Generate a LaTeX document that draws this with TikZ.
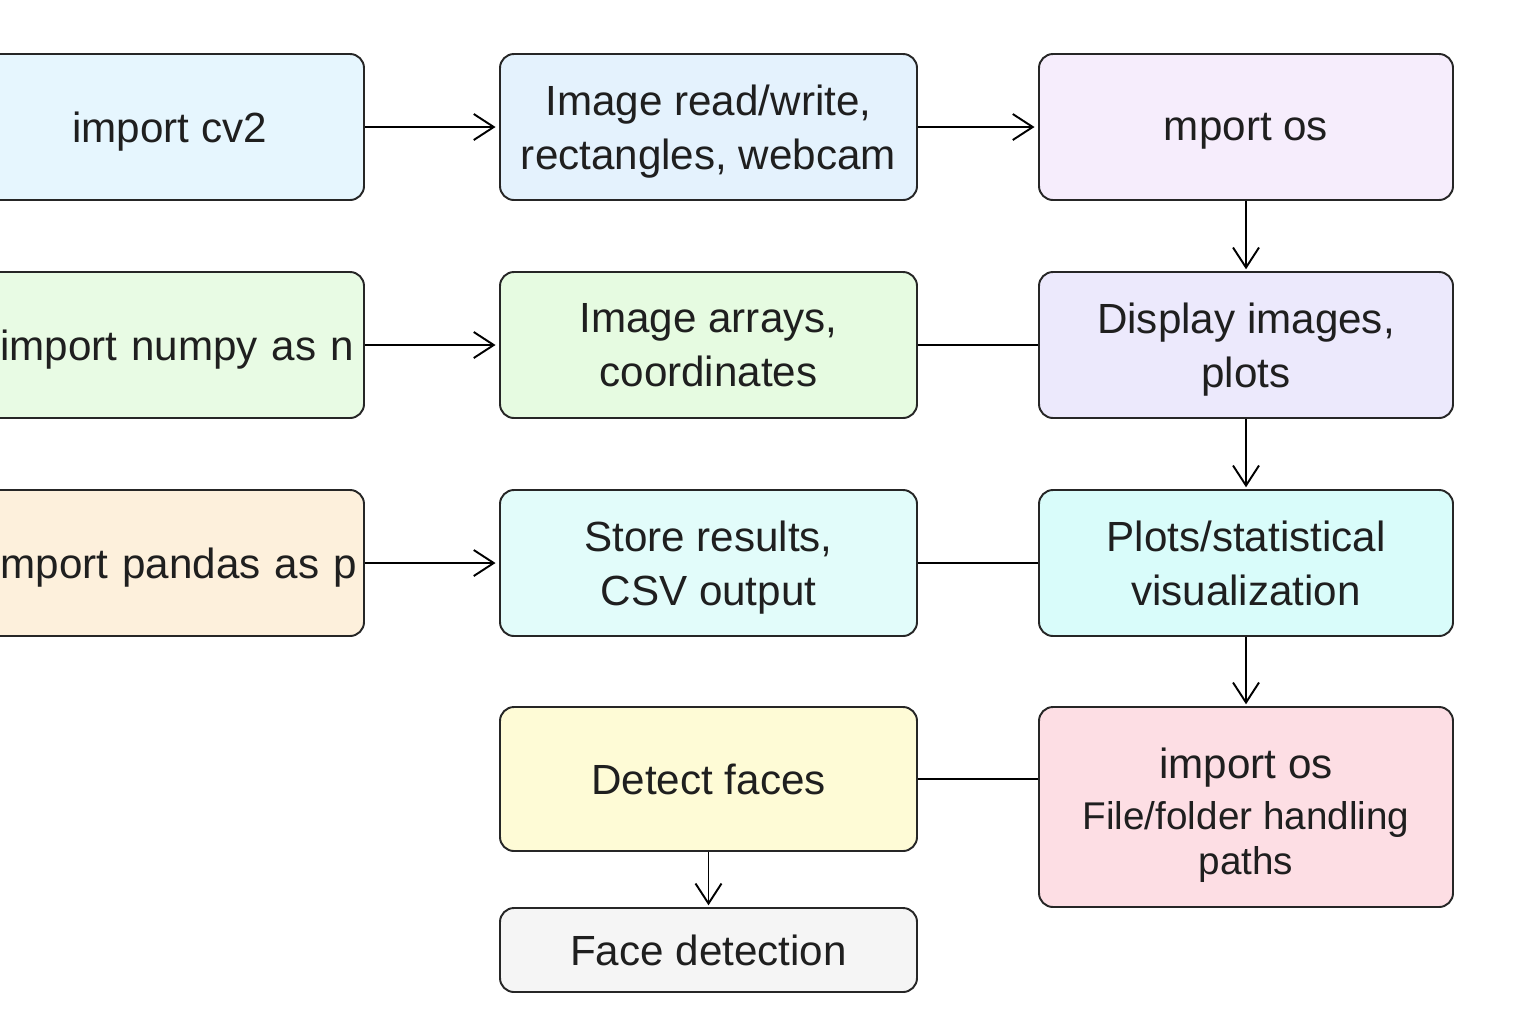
\documentclass[tikz,border=0pt]{standalone}
\usepackage{fontspec}
\setmainfont{Liberation Sans}
\usetikzlibrary{arrows.meta}

\definecolor{cvblue}{HTML}{E6F6FE}
\definecolor{readblue}{HTML}{E4F2FD}
\definecolor{oslilac}{HTML}{F6EDFC}
\definecolor{npgreen}{HTML}{E8FBE4}
\definecolor{arrgreen}{HTML}{E6FBE1}
\definecolor{displilac}{HTML}{ECE9FC}
\definecolor{pdpeach}{HTML}{FDF0DC}
\definecolor{storecyan}{HTML}{E2FCFA}
\definecolor{plotcyan}{HTML}{D9FCFA}
\definecolor{detyellow}{HTML}{FEFBD6}
\definecolor{ospink}{HTML}{FDDEE4}
\definecolor{facegray}{HTML}{F5F5F5}

\begin{document}
\begin{tikzpicture}[line width=1.1pt, >={Straight Barb[length=4mm,width=5.2mm]},
  box/.style={draw=black!85, rounded corners=0.28cm, align=center, inner sep=0pt,
    text depth=0pt, font=\fontsize{24}{30.7}\selectfont, text=black!88},
  left box/.style={box, minimum width=7.78cm, minimum height=2.92cm},
  mid box/.style={box, minimum width=8.34cm, minimum height=2.92cm},
  right box/.style={box, minimum width=8.28cm, minimum height=2.92cm}]

\useasboundingbox (0,0) rectangle (30.72,-20.48);

% Left column
\node[left box, fill=cvblue]  (cv)     at (3.39,-2.54)  {import cv2};
\node[left box, fill=npgreen, align=right, text width=7.38cm] (numpy)  at (3.39,-6.90)  {import numpy as n};
\node[left box, fill=pdpeach, align=right, text width=7.5cm]  (pandas) at (3.39,-11.26) {mport pandas as p};

% Middle column
\node[mid box, fill=readblue]  (readwrite) at (14.17,-2.54)  {Image read/write,\\rectangles, webcam};
\node[mid box, fill=arrgreen]  (arrays)    at (14.17,-6.90)  {Image arrays,\\coordinates};
\node[mid box, fill=storecyan] (store)     at (14.17,-11.26) {Store results,\\CSV output};
\node[mid box, fill=detyellow, minimum height=2.88cm] (detect) at (14.17,-15.58) {Detect faces};
\node[mid box, fill=facegray, minimum height=1.68cm]  (facedet) at (14.17,-19.00) {Face detection};

% Right column
\node[right box, fill=oslilac]   (os)      at (24.92,-2.54)  {mport os};
\node[right box, fill=displilac] (display) at (24.92,-6.90)  {Display images,\\plots};
\node[right box, fill=plotcyan]  (plots)   at (24.92,-11.26) {Plots/statistical\\visualization};
\node[right box, fill=ospink, minimum height=4.0cm] (osfile) at (24.92,-16.14)
  {\rule{0pt}{0.78cm}import os\\[-0.06cm]{\fontsize{22}{28.5}\selectfont File/folder handling}\\[-0.16cm]{\fontsize{22}{28.5}\selectfont paths}};

% Arrows
\draw[->, shorten >=2pt] (cv) -- (readwrite);
\draw[->, shorten >=2pt] (readwrite) -- (os);
\draw[->, shorten >=2pt] (numpy) -- (arrays);
\draw[->, shorten >=2pt] (pandas) -- (store);
\draw[->, shorten >=1pt] (os) -- (display);
\draw[->, shorten >=1pt] (display) -- (plots);
\draw[->, shorten >=1pt] (plots) -- (osfile);
\draw[->, shorten >=1pt] (detect) -- (facedet);

% Plain lines
\draw (arrays) -- (display);
\draw (store) -- (plots);
\draw (detect.east) -- (detect.east -| osfile.west);

\end{tikzpicture}
\end{document}
